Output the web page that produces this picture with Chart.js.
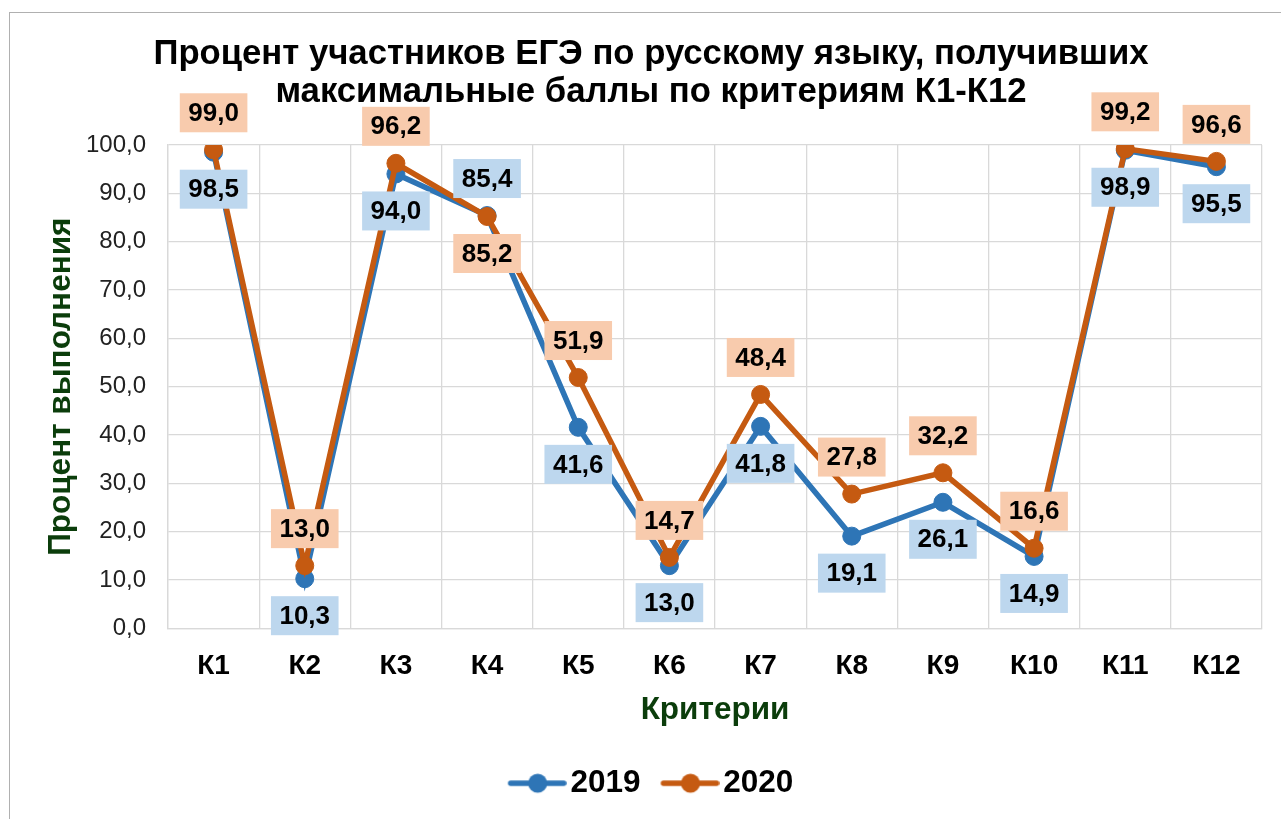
<!DOCTYPE html>
<html>
<head>
<meta charset="utf-8">
<script src="https://cdn.jsdelivr.net/npm/chart.js@4"></script>
<style>
  html, body { margin: 0; padding: 0; background: #fff; overflow: hidden; width: 1281px; height: 819px; }
  #wrap { position: relative; width: 1281px; height: 819px; }
  #frame { position: absolute; left: 9px; top: 12px; width: 1400px; height: 900px; border: 1.5px solid #B0B0B0; pointer-events: none; }
  canvas { position: absolute; left: 0; top: 0; }
</style>
</head>
<body>
<div id="wrap">
  <canvas id="c" width="1281" height="819"></canvas>
  <div id="frame"></div>
</div>
<script>
const categories = ['К1','К2','К3','К4','К5','К6','К7','К8','К9','К10','К11','К12'];
const values2019 = [98.5, 10.3, 94.0, 85.4, 41.6, 13.0, 41.8, 19.1, 26.1, 14.9, 98.9, 95.5];
const values2020 = [99.0, 13.0, 96.2, 85.2, 51.9, 14.7, 48.4, 27.8, 32.2, 16.6, 99.2, 96.6];
const seriesNames = ['2019', '2020'];
const yTickMin = 0, yTickMax = 100, yTickStep = 10;

const FONT = '"Liberation Sans", Arial, sans-serif';
const BLUE = '#2E75B6', ORANGE = '#C55A11';
const BLUE_BG = '#BDD7EE', ORANGE_BG = '#F8CBAD';
const GREEN = '#0B3D0B';

function fmt(v) { return v.toFixed(1).replace('.', ','); }

function legendMarker(color) {
  const c = document.createElement('canvas');
  c.width = 70; c.height = 24;
  const g = c.getContext('2d');
  g.strokeStyle = color; g.lineWidth = 5.5; g.lineCap = 'round';
  g.beginPath(); g.moveTo(14, 12); g.lineTo(67, 12); g.stroke();
  g.fillStyle = color; g.beginPath(); g.arc(41, 12, 9.5, 0, Math.PI * 2); g.fill();
  return c;
}
const markers = [legendMarker(BLUE), legendMarker(ORANGE)];

const labelPlugin = {
  id: 'valueLabels',
  afterDatasetsDraw(chart) {
    const ctx = chart.ctx;
    const bgs = [BLUE_BG, ORANGE_BG];
    const sets = [values2019, values2020];
    ctx.save();
    ctx.font = 'bold 26px ' + FONT;
    ctx.textAlign = 'center';
    ctx.textBaseline = 'middle';
    for (let d = 0; d < 2; d++) {
      const meta = chart.getDatasetMeta(d);
      const other = sets[1 - d];
      meta.data.forEach((pt, i) => {
        const v = sets[d][i];
        const above = v > other[i];
        const txt = fmt(v);
        const w = ctx.measureText(txt).width + 17;
        const h = 39;
        const cy = pt.y + (above ? -37 : 37);
        ctx.fillStyle = bgs[d];
        ctx.fillRect(pt.x - w / 2, cy - h / 2, w, h);
        ctx.fillStyle = '#000';
        ctx.fillText(txt, pt.x, cy + 1);
      });
    }
    ctx.restore();
  }
};

new Chart(document.getElementById('c'), {
  type: 'line',
  data: {
    labels: categories,
    datasets: [
      { label: seriesNames[0], data: values2019, borderColor: BLUE, backgroundColor: BLUE,
        borderWidth: 5.5, pointRadius: 9, pointBorderWidth: 1, pointBackgroundColor: BLUE, pointBorderColor: BLUE,
        tension: 0, order: 1 },
      { label: seriesNames[1], data: values2020, borderColor: ORANGE, backgroundColor: ORANGE,
        borderWidth: 5.5, pointRadius: 9, pointBorderWidth: 1, pointBackgroundColor: ORANGE, pointBorderColor: ORANGE,
        tension: 0, order: 0 }
    ]
  },
  options: {
    responsive: false,
    animation: false,
    devicePixelRatio: 1,
    layout: { padding: { left: 40, right: 19, top: 14, bottom: 10 } },
    plugins: {
      title: {
        display: true,
        text: ['Процент участников ЕГЭ по русскому языку, получивших', 'максимальные баллы по критериям К1-К12'],
        color: '#000',
        font: { family: FONT, size: 34.7, weight: 'bold', lineHeight: 1.1 },
        padding: { top: 21, bottom: 33.6 }
      },
      legend: {
        position: 'bottom',
        labels: {
          color: '#000',
          font: { family: FONT, size: 31.5, weight: 'bold' },
          usePointStyle: true,
          pointStyleWidth: 46,
          padding: 21,
          generateLabels(chart) {
            return chart.data.datasets.map((ds, i) => ({
              text: ds.label, pointStyle: markers[i], fillStyle: ds.borderColor,
              strokeStyle: ds.borderColor, lineWidth: 0, hidden: false, datasetIndex: i, fontColor: '#000'
            }));
          }
        }
      },
      tooltip: { enabled: false }
    },
    scales: {
      x: {
        offset: true,
        grid: { offset: true, color: '#D9D9D9', lineWidth: 1.3, drawTicks: false },
        border: { color: '#D9D9D9', width: 1.3 },
        ticks: { color: '#000', font: { family: FONT, size: 28, weight: 'bold' }, padding: 21 },
        title: { display: true, text: 'Критерии', color: GREEN,
                 font: { family: FONT, size: 31.5, weight: 'bold' }, padding: { top: 0, bottom: 17 } },
        afterFit(scale) { scale.height = 118; }
      },
      y: {
        min: yTickMin, max: yTickMax,
        grid: { color: '#D9D9D9', lineWidth: 1.3, drawTicks: false },
        border: { color: '#D9D9D9', width: 1.3 },
        ticks: { stepSize: yTickStep, color: '#222', font: { family: FONT, size: 24 }, padding: 22,
                 callback: (v) => fmt(v) },
        title: { display: true, text: 'Процент выполнения', color: GREEN,
                 font: { family: FONT, size: 31.5, weight: 'bold' }, padding: { top: 2.1, bottom: 0 } },
        afterFit(scale) { scale.width = 128; }
      }
    }
  },
  plugins: [labelPlugin]
});
</script>
</body>
</html>
